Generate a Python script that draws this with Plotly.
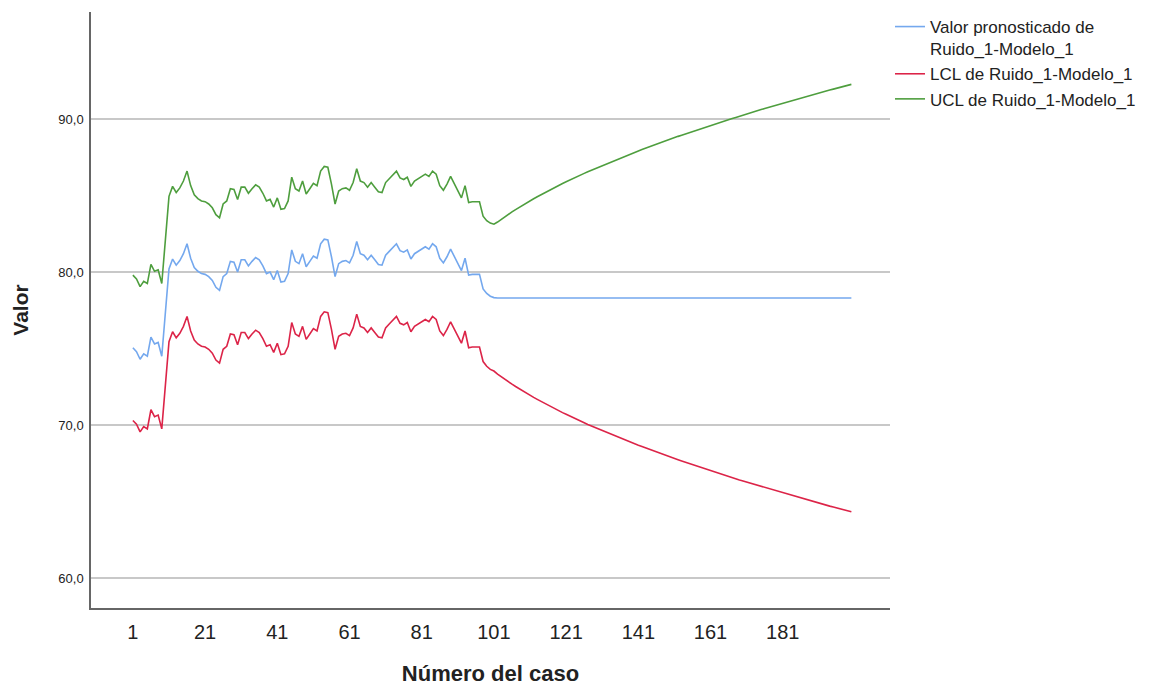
import plotly.graph_objects as go

cases = list(range(1, 201))

forecast = [
    75.05, 74.80, 74.30, 74.65, 74.50, 75.75, 75.30, 75.40, 74.50, 77.10,
    80.20, 80.85, 80.45, 80.75, 81.20, 81.85, 80.90, 80.30, 80.05, 79.90,
    79.85, 79.70, 79.45, 79.00, 78.80, 79.70, 79.90, 80.70, 80.65, 80.00,
    80.80, 80.80, 80.40, 80.70, 80.95, 80.80, 80.40, 79.90, 80.00, 79.50,
    80.10, 79.35, 79.40, 79.90, 81.45, 80.70, 80.55, 81.20, 80.35, 80.70,
    81.05, 80.90, 81.85, 82.15, 82.10, 81.00, 79.70, 80.55, 80.70, 80.75,
    80.60, 81.10, 82.00, 81.20, 81.10, 80.80, 81.10, 80.80, 80.50, 80.45,
    81.10, 81.35, 81.60, 81.85, 81.40, 81.30, 81.45, 80.85, 81.20, 81.35,
    81.50, 81.65, 81.50, 81.85, 81.65, 80.90, 80.60, 81.00, 81.50, 81.00,
    80.50, 80.10, 80.90, 79.80, 79.85, 79.85, 79.85, 78.90, 78.60, 78.42,
    78.33, 78.30, 78.30, 78.30, 78.30, 78.30, 78.30, 78.30, 78.30, 78.30,
    78.30, 78.30, 78.30, 78.30, 78.30, 78.30, 78.30, 78.30, 78.30, 78.30,
    78.30, 78.30, 78.30, 78.30, 78.30, 78.30, 78.30, 78.30, 78.30, 78.30,
    78.30, 78.30, 78.30, 78.30, 78.30, 78.30, 78.30, 78.30, 78.30, 78.30,
    78.30, 78.30, 78.30, 78.30, 78.30, 78.30, 78.30, 78.30, 78.30, 78.30,
    78.30, 78.30, 78.30, 78.30, 78.30, 78.30, 78.30, 78.30, 78.30, 78.30,
    78.30, 78.30, 78.30, 78.30, 78.30, 78.30, 78.30, 78.30, 78.30, 78.30,
    78.30, 78.30, 78.30, 78.30, 78.30, 78.30, 78.30, 78.30, 78.30, 78.30,
    78.30, 78.30, 78.30, 78.30, 78.30, 78.30, 78.30, 78.30, 78.30, 78.30,
    78.30, 78.30, 78.30, 78.30, 78.30, 78.30, 78.30, 78.30, 78.30, 78.30,
]

lcl = [
    70.30, 70.05, 69.55, 69.90, 69.75, 71.00, 70.55, 70.65, 69.75, 72.35,
    75.45, 76.10, 75.70, 76.00, 76.45, 77.10, 76.15, 75.55, 75.30, 75.15,
    75.10, 74.95, 74.70, 74.25, 74.05, 74.95, 75.15, 75.95, 75.90, 75.25,
    76.05, 76.05, 75.65, 75.95, 76.20, 76.05, 75.65, 75.15, 75.25, 74.75,
    75.35, 74.60, 74.65, 75.15, 76.70, 75.95, 75.80, 76.45, 75.60, 75.95,
    76.30, 76.15, 77.10, 77.40, 77.35, 76.25, 74.95, 75.80, 75.95, 76.00,
    75.85, 76.35, 77.25, 76.45, 76.35, 76.05, 76.35, 76.05, 75.75, 75.70,
    76.35, 76.60, 76.85, 77.10, 76.65, 76.55, 76.70, 76.10, 76.45, 76.60,
    76.75, 76.90, 76.75, 77.10, 76.90, 76.15, 75.85, 76.25, 76.75, 76.25,
    75.75, 75.35, 76.15, 75.05, 75.10, 75.10, 75.10, 74.15, 73.84, 73.64,
    73.53, 73.33, 73.15, 72.99, 72.83, 72.67, 72.52, 72.37, 72.22, 72.08,
    71.94, 71.81, 71.68, 71.55, 71.42, 71.29, 71.17, 71.05, 70.93, 70.81,
    70.70, 70.58, 70.47, 70.36, 70.25, 70.15, 70.04, 69.94, 69.83, 69.73,
    69.63, 69.53, 69.43, 69.33, 69.24, 69.14, 69.05, 68.95, 68.86, 68.77,
    68.68, 68.59, 68.50, 68.41, 68.32, 68.23, 68.15, 68.06, 67.98, 67.89,
    67.81, 67.73, 67.65, 67.57, 67.48, 67.40, 67.32, 67.25, 67.17, 67.09,
    67.01, 66.94, 66.86, 66.78, 66.71, 66.63, 66.56, 66.49, 66.41, 66.34,
    66.27, 66.19, 66.12, 66.05, 65.98, 65.91, 65.84, 65.77, 65.70, 65.63,
    65.56, 65.50, 65.43, 65.36, 65.29, 65.23, 65.16, 65.09, 65.03, 64.96,
    64.90, 64.83, 64.77, 64.70, 64.64, 64.58, 64.51, 64.45, 64.39, 64.33,
]

ucl = [
    79.80, 79.55, 79.05, 79.40, 79.25, 80.50, 80.05, 80.15, 79.25, 81.85,
    84.95, 85.60, 85.20, 85.50, 85.95, 86.60, 85.65, 85.05, 84.80, 84.65,
    84.60, 84.45, 84.20, 83.75, 83.55, 84.45, 84.65, 85.45, 85.40, 84.75,
    85.55, 85.55, 85.15, 85.45, 85.70, 85.55, 85.15, 84.65, 84.75, 84.25,
    84.85, 84.10, 84.15, 84.65, 86.20, 85.45, 85.30, 85.95, 85.10, 85.45,
    85.80, 85.65, 86.60, 86.90, 86.85, 85.75, 84.45, 85.30, 85.45, 85.50,
    85.35, 85.85, 86.75, 85.95, 85.85, 85.55, 85.85, 85.55, 85.25, 85.20,
    85.85, 86.10, 86.35, 86.60, 86.15, 86.05, 86.20, 85.60, 85.95, 86.10,
    86.25, 86.40, 86.25, 86.60, 86.40, 85.65, 85.35, 85.75, 86.25, 85.75,
    85.25, 84.85, 85.65, 84.55, 84.60, 84.60, 84.60, 83.65, 83.36, 83.20,
    83.13, 83.27, 83.45, 83.61, 83.77, 83.93, 84.08, 84.23, 84.38, 84.52,
    84.66, 84.79, 84.92, 85.05, 85.18, 85.31, 85.43, 85.55, 85.67, 85.79,
    85.90, 86.02, 86.13, 86.24, 86.35, 86.45, 86.56, 86.66, 86.77, 86.87,
    86.97, 87.07, 87.17, 87.27, 87.36, 87.46, 87.55, 87.65, 87.74, 87.83,
    87.92, 88.01, 88.10, 88.19, 88.28, 88.37, 88.45, 88.54, 88.62, 88.71,
    88.79, 88.87, 88.95, 89.03, 89.12, 89.20, 89.28, 89.35, 89.43, 89.51,
    89.59, 89.66, 89.74, 89.82, 89.89, 89.97, 90.04, 90.11, 90.19, 90.26,
    90.33, 90.41, 90.48, 90.55, 90.62, 90.69, 90.76, 90.83, 90.90, 90.97,
    91.04, 91.10, 91.17, 91.24, 91.31, 91.37, 91.44, 91.51, 91.57, 91.64,
    91.70, 91.77, 91.83, 91.90, 91.96, 92.02, 92.09, 92.15, 92.21, 92.27,
]

x_ticks = [1, 21, 41, 61, 81, 101, 121, 141, 161, 181]
y_ticks = [60, 70, 80, 90]

names = [
    "Valor pronosticado de<br>Ruido_1-Modelo_1",
    "LCL de Ruido_1-Modelo_1",
    "UCL de Ruido_1-Modelo_1",
]
colors = ["#74a8ee", "#dc2448", "#4e9e3e"]

fig = go.Figure()
for name, ys, col in zip(names, [forecast, lcl, ucl], colors):
    fig.add_trace(go.Scatter(x=cases, y=ys, mode="lines", name=name,
                             line=dict(color=col, width=1.6)))

FONT = "Liberation Sans, Arial, sans-serif"
fig.update_layout(
    width=1149, height=683,
    margin=dict(l=83, r=267, t=4, b=83, autoexpand=False),
    paper_bgcolor="white", plot_bgcolor="white",
    separators=",.",
    font=dict(family=FONT, color="#222222"),
    showlegend=True,
    legend=dict(x=1.0, xanchor="left", y=1.005, yanchor="top",
                font=dict(size=17, family=FONT, color="#222222"),
                tracegroupgap=0, itemwidth=30, valign="top",
                bgcolor="rgba(0,0,0,0)"),
    xaxis=dict(range=[-10.6, 210.7], tickvals=x_ticks,
               ticktext=[str(v) for v in x_ticks],
               showgrid=False, zeroline=False, showline=True,
               linecolor="#666666", linewidth=1.5, ticks="",
               tickfont=dict(size=20, family=FONT, color="#222222"),
               ticklabelstandoff=5,
               title=dict(text="<b>Número del caso</b>", standoff=24,
                          font=dict(size=22, family=FONT, color="#222222"))),
    yaxis=dict(range=[58.04, 97.0], tickvals=y_ticks, tickformat=".1f",
               showgrid=True, gridcolor="#c8c8c8", gridwidth=1.5,
               zeroline=False, showline=True,
               linecolor="#666666", linewidth=1.5, ticks="",
               tickfont=dict(size=13, family=FONT, color="#222222"),
               ticklabelstandoff=3,
               title=dict(text="<b>Valor</b>", standoff=24,
                          font=dict(size=21, family=FONT, color="#222222"))),
)

fig.write_html("out.html")
